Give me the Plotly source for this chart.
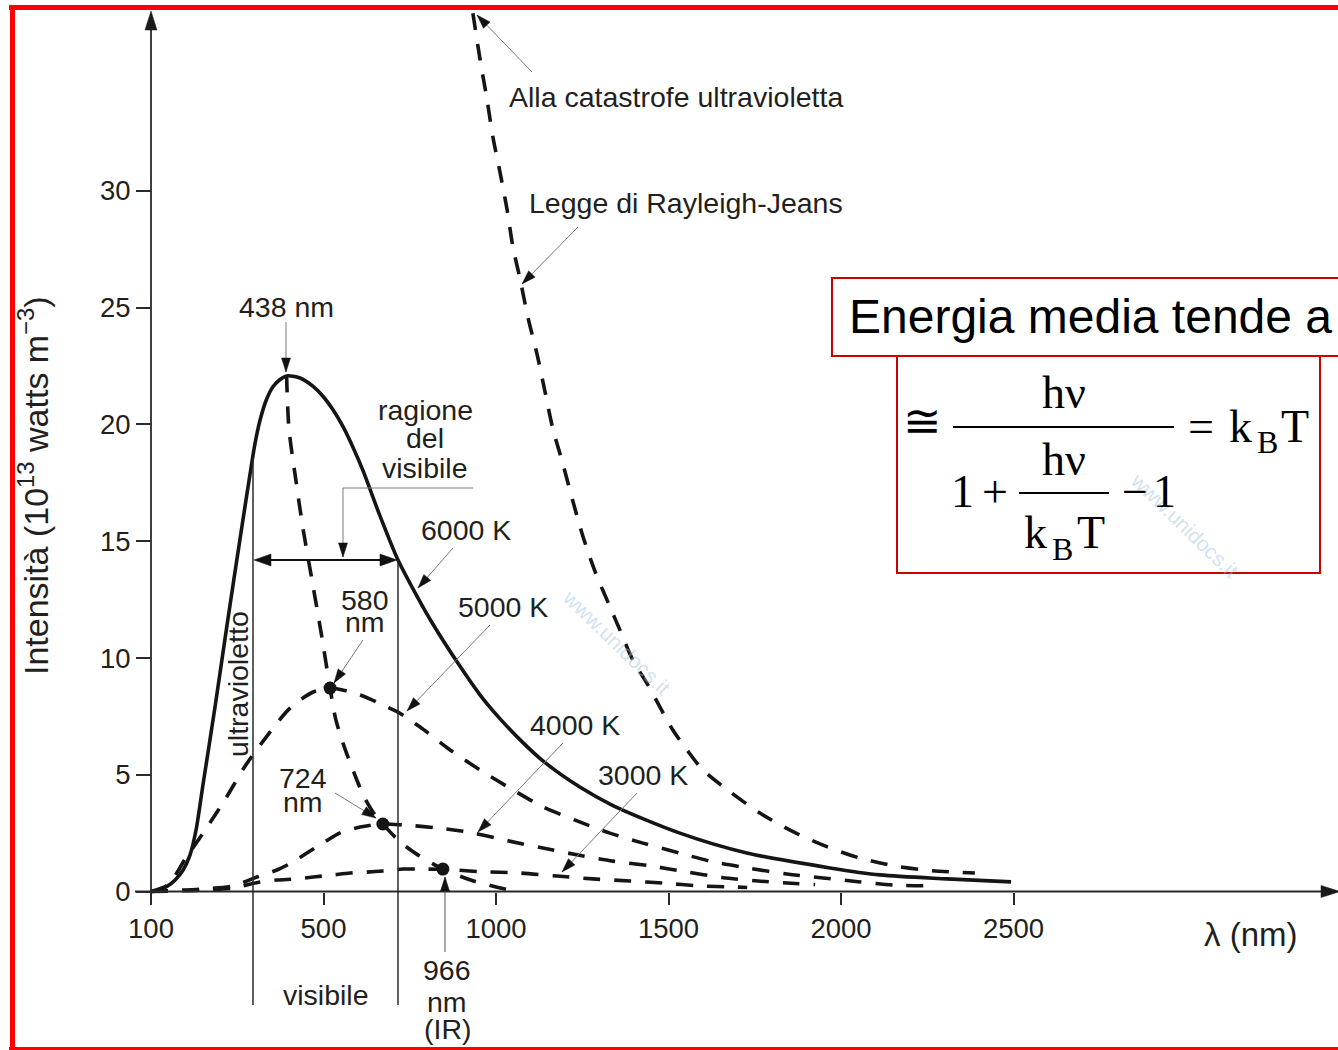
import math
import plotly.graph_objects as go

# ---------------- data (axis units) ----------------
# x: wavelength axis units (tick "100" sits at 0), y: intensity (1e13 W m^-3)
x_6000 = [0, 26, 46, 70, 93, 113, 130, 151, 186, 214, 243, 272, 287, 301, 316, 335, 354, 374, 393,
          432, 470, 499, 528, 557, 586, 614, 664, 716, 774, 817, 887, 954, 1012, 1070, 1136, 1243, 1339,
          1533, 1727, 1968, 2113, 2307, 2493]
y_6000 = [0, 0.06, 0.21, 0.49, 0.92, 1.56, 2.59, 4.6, 7.94, 10.77, 13.63, 16.44, 17.86, 19.14, 20.17,
          21.07, 21.62, 21.92, 22.07, 21.98, 21.62, 21.19, 20.61, 19.89, 19.0, 18.04, 16.07, 14.19,
          12.56, 11.45, 9.83, 8.41, 7.39, 6.49, 5.59, 4.47, 3.68, 2.5, 1.65, 1.01, 0.71, 0.54, 0.41]

x_5000 = [0, 50, 99, 157, 214, 272, 330, 403, 470, 519, 606, 684, 716, 780, 867, 954, 1049, 1136, 1235,
          1330, 1426, 1533, 1629, 1736, 1843, 1948, 2049, 2151, 2272]
y_5000 = [0, 0.3, 1.39, 2.63, 3.92, 5.35, 6.53, 7.85, 8.54, 8.71, 8.41, 7.9, 7.68, 7.04, 6.06, 5.2, 4.35,
          3.63, 3.02, 2.5, 2.07, 1.64, 1.27, 0.99, 0.75, 0.58, 0.42, 0.28, 0.24]

x_4000 = [0, 142, 238, 307, 365, 412, 452, 499, 548, 606, 672, 730, 829, 933, 1035, 1136, 1238, 1339,
          1446, 1548, 1655, 1759, 1867, 1925]
y_4000 = [0, 0.1, 0.24, 0.62, 0.92, 1.27, 1.65, 2.08, 2.51, 2.76, 2.89, 2.85, 2.72, 2.51, 2.17, 1.86,
          1.56, 1.3, 1.1, 0.85, 0.6, 0.45, 0.34, 0.3]

x_3000 = [0, 142, 238, 316, 365, 423, 470, 528, 577, 626, 672, 730, 780, 846, 954, 1070, 1177, 1281,
          1388, 1484, 1591, 1699, 1728]
y_3000 = [0, 0.06, 0.15, 0.41, 0.49, 0.54, 0.62, 0.71, 0.79, 0.83, 0.88, 0.96, 0.96, 0.95, 0.85, 0.79,
          0.66, 0.54, 0.45, 0.36, 0.24, 0.19, 0.17]

# Rayleigh-Jeans law
x_rj = [933, 954, 974, 991, 1012, 1032, 1049, 1070, 1093, 1119, 1142, 1165, 1194, 1223, 1252, 1287,
        1330, 1359, 1397, 1438, 1475, 1513, 1554, 1600, 1678, 1765, 1861, 1959, 2055, 2157, 2264, 2388]
y_rj = [37.6, 35.6, 33.9, 32.3, 30.76, 29.2, 27.6, 26.2, 24.55, 23.0, 21.4, 19.8, 18.3, 16.7, 15.2,
        13.7, 12.2, 11.2, 9.9, 8.9, 7.9, 6.9, 6.05, 5.2, 4.27, 3.36, 2.56, 1.92, 1.43, 1.09, 0.89, 0.79]

# Wien displacement locus through the maxima
x_wien = [393, 400, 420, 441, 467, 494, 519, 535, 560, 588, 616, 648, 672, 720, 770, 846, 935, 1041]
y_wien = [22.1, 19.8, 17.6, 15.5, 13.3, 11.0, 8.71, 7.4, 6.2, 5.1, 4.1, 3.3, 2.89, 2.15, 1.6, 0.96,
          0.45, 0.05]

# maxima marked with dots (5000 K, 4000 K, 3000 K)
peak_x = [519, 672, 846]
peak_y = [8.71, 2.89, 0.96]

x_tick_vals = [0, 500, 1000, 1500, 2000, 2500]
x_tick_text = ["100", "500", "1000", "1500", "2000", "2500"]
y_tick_vals = [0, 5, 10, 15, 20, 25, 30]

# ---------------- canvas geometry ----------------
W, H = 1338, 1050
PX0, KX = 151.0, 0.345      # pixel of x=0, pixels per x unit
PY0, KY = 891.5, 23.36      # pixel of y=0, pixels per y unit
X_RANGE = [(0 - PX0) / KX, (W - PX0) / KX]
Y_RANGE = [(PY0 - H) / KY, PY0 / KY]


def dx(px):
    return (px - PX0) / KX


def dy(py):
    return (PY0 - py) / KY


SANS = "Liberation Sans, Arial, sans-serif"
SERIF = "Liberation Serif, Times New Roman, serif"
INK = "#231f20"
LINE = "#151515"

fig = go.Figure()


def curve(x, y, dashed=True):
    fig.add_trace(go.Scatter(
        x=x, y=y, mode="lines", hoverinfo="skip", showlegend=False,
        line=dict(color=LINE, width=3.6, dash="17px,14px" if dashed else "solid",
                  shape="spline", smoothing=0.8)))


curve(x_rj, y_rj)
curve(x_wien, y_wien)
curve(x_3000, y_3000)
curve(x_4000, y_4000)
curve(x_5000, y_5000)
curve(x_6000, y_6000, dashed=False)
fig.add_trace(go.Scatter(x=peak_x, y=peak_y, mode="markers", hoverinfo="skip", showlegend=False,
                         marker=dict(size=13, color=LINE)))

shapes = []
annotations = []


def seg(p, q, color="#333", width=1.5):
    shapes.append(dict(type="line", xref="x", yref="y", x0=dx(p[0]), y0=dy(p[1]),
                       x1=dx(q[0]), y1=dy(q[1]), line=dict(color=color, width=width)))


def head(tail, tip, L=14, hw=4.5, color="#111"):
    ux, uy = tip[0] - tail[0], tip[1] - tail[1]
    n = math.hypot(ux, uy)
    ux, uy = ux / n, uy / n
    bx, by = tip[0] - L * ux, tip[1] - L * uy
    nx, ny = -uy, ux
    pts = [tip, (bx + hw * nx, by + hw * ny), (bx - hw * nx, by - hw * ny)]
    path = "M " + " L ".join(f"{dx(a):.3f},{dy(b):.3f}" for a, b in pts) + " Z"
    shapes.append(dict(type="path", xref="x", yref="y", path=path, fillcolor=color,
                       line=dict(color=color, width=0.5)))


def pointer(tail, tip, color="#7a7a7a"):
    seg(tail, tip, color=color, width=1)
    head(tail, tip)


def label(text, px, py, size=28.5, anchor="center", font=SANS, color=INK, angle=0):
    annotations.append(dict(x=dx(px), y=dy(py), xref="x", yref="y", text=text, showarrow=False,
                            xanchor=anchor, yanchor="middle", textangle=angle, borderpad=0,
                            font=dict(family=font, size=size, color=color)))


def label_b(text, px, baseline, size=28.5, anchor="center", font=SANS, color=INK):
    k = 0.3375 if font == SERIF else 0.3465
    label(text, px, baseline - k * size, size=size, anchor=anchor, font=font, color=color)


# watermark (faint)
WM = "rgba(150,190,225,0.45)"
label("www.unidocs.it", 617, 642, size=21, color=WM, angle=44)
label("www.unidocs.it", 1185, 525, size=21, color=WM, angle=44)

# axes lines with arrows
seg((151, PY0), (151, 26), color="#2a2a2a", width=1.8)
head((151, 100), (151, 11), L=19, hw=6, color="#1a1a1a")
seg((135, PY0), (1325, PY0), color="#2a2a2a", width=1.8)
head((1200, PY0), (1340, PY0), L=19, hw=6, color="#1a1a1a")

# visible region boundaries
seg((253, 1005), (253, 458), color="#2a2a2a", width=1.5)
seg((398, 1005), (398, 560), color="#2a2a2a", width=1.5)
seg((262, 560), (389, 560), color="#111", width=2.2)
head((398, 560), (254, 560), L=17, hw=6)
head((253, 560), (397, 560), L=17, hw=6)

# pointers
pointer((286, 322), (286, 372))
seg((343, 488), (473, 488), color="#7a7a7a", width=1)
pointer((343, 488), (343, 557))
pointer((453, 548), (418, 588))
pointer((490, 625), (407, 711))
pointer((363, 640), (334, 683))
pointer((335, 793), (376, 818))
pointer((563, 743), (478, 832))
pointer((637, 793), (562, 872))
pointer((445, 952), (445, 877), color="#555")
pointer((532, 72), (477, 15))
pointer((578, 227), (522, 284))

# chart labels
label_b("438 nm", 286, 317)
label_b("ragione", 425, 420)
label_b("del", 425, 448)
label_b("visibile", 425, 478)
label_b("6000 K", 466, 540)
label_b("5000 K", 503, 617)
label_b("580", 365, 610)
label_b("nm", 365, 632)
label_b("724", 303, 788)
label_b("nm", 303, 812)
label_b("4000 K", 575, 735)
label_b("3000 K", 643, 785)
label_b("966", 447, 980)
label_b("nm", 447, 1012)
label_b("(IR)", 447, 1039)
label_b("visibile", 326, 1005)
label_b("λ (nm)", 1251, 946, size=33)
label_b("Alla catastrofe ultravioletta", 508, 106.7, anchor="left")
label_b("Legge di Rayleigh-Jeans", 528, 213.3, anchor="left")
label("ultravioletto", 238, 684, angle=-90)
label("Intensità (10<sup>13</sup> watts m<sup>−3</sup>)", 33, 486, size=34, angle=-90)

# formula boxes
RED = "#cc0000"
shapes.append(dict(type="rect", xref="x", yref="y", x0=dx(832), y0=dy(278), x1=dx(1360), y1=dy(356),
                   line=dict(color=RED, width=2)))
shapes.append(dict(type="rect", xref="x", yref="y", x0=dx(897), y0=dy(356), x1=dx(1320), y1=dy(573),
                   line=dict(color=RED, width=2)))
label_b("Energia media tende a", 848, 333, size=48, anchor="left", color="#000")

FS = 46
label("≅", 922.5, 421, size=46, font=SERIF, color="#000")
label_b("hν", 1064, 408, size=FS, font=SERIF, color="#000")
seg((953, 427), (1174, 427), color="#000", width=2)
label_b("=", 1201, 442, size=FS, font=SERIF, color="#000")
label_b("k", 1240, 442, size=FS, font=SERIF, color="#000")
label_b("B", 1267, 453, size=32, font=SERIF, color="#000")
label_b("T", 1295, 442, size=FS, font=SERIF, color="#000")
label_b("1", 962.5, 507, size=FS, font=SERIF, color="#000")
label_b("+", 994.5, 507, size=FS, font=SERIF, color="#000")
label_b("hν", 1064, 475, size=FS, font=SERIF, color="#000")
seg((1019, 493), (1109, 493), color="#000", width=1.8)
label_b("k", 1035, 548, size=FS, font=SERIF, color="#000")
label_b("B", 1062, 560, size=32, font=SERIF, color="#000")
label_b("T", 1091, 548, size=FS, font=SERIF, color="#000")
label_b("−", 1135, 507, size=FS, font=SERIF, color="#000")
label_b("1", 1164, 507, size=FS, font=SERIF, color="#000")

# red frame
FR = "#ff0000"
seg((9, 7.5), (1345, 7.5), color=FR, width=5)
seg((12.5, 5), (12.5, 1055), color=FR, width=5)
seg((9, 1048.5), (1345, 1048.5), color=FR, width=3)

fig.update_layout(
    width=W, height=H, margin=dict(l=0, r=0, t=0, b=0),
    paper_bgcolor="white", plot_bgcolor="white", showlegend=False,
    font=dict(family=SANS, color=INK),
    shapes=shapes, annotations=annotations,
    xaxis=dict(range=X_RANGE, domain=[0, 1], anchor="free",
               position=-Y_RANGE[0] / (Y_RANGE[1] - Y_RANGE[0]),
               showgrid=False, zeroline=False, showline=False,
               ticks="outside", ticklen=12, tickwidth=1.5, tickcolor="#2a2a2a",
               tickvals=x_tick_vals, ticktext=x_tick_text,
               tickfont=dict(family=SANS, size=27.5, color=INK), fixedrange=True),
    yaxis=dict(range=Y_RANGE, domain=[0, 1], anchor="free",
               position=-X_RANGE[0] / (X_RANGE[1] - X_RANGE[0]),
               showgrid=False, zeroline=False, showline=False,
               ticks="outside", ticklen=15, tickwidth=1.5, tickcolor="#2a2a2a",
               tickvals=y_tick_vals,
               tickfont=dict(family=SANS, size=27.5, color=INK), fixedrange=True),
)

fig.write_html("out.html")
